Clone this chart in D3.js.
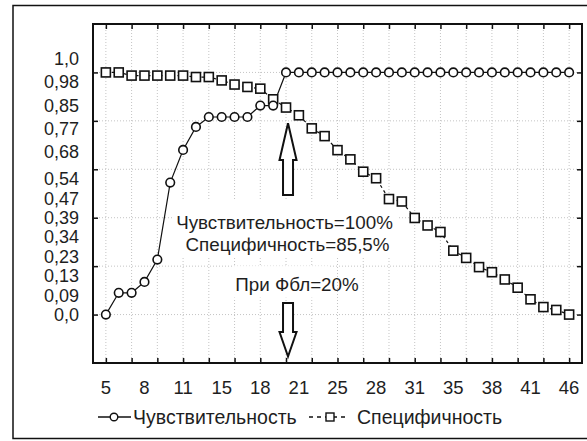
<!DOCTYPE html>
<html>
<head>
<meta charset="utf-8">
<script src="https://cdn.jsdelivr.net/npm/d3@7"></script>
<style>
  body { margin: 0; background: #fff; }
  text { font-family: "Liberation Sans", Arial, sans-serif; fill: #1e1e1e; }
</style>
</head>
<body>
<div id="chart"></div>
<script>
// x categories (Фбл, %) - a label every third point
const tickLabels = ["5", "8", "11", "15", "18", "21", "25", "28", "31", "35", "38", "41", "46"];
const seriesNames = ["Чувствительность", "Специфичность"];

const sensitivity = [0, 0.09, 0.09, 0.135, 0.227, 0.545, 0.68, 0.775, 0.816, 0.816, 0.816, 0.816, 0.863, 0.863,
    1, 1, 1, 1, 1, 1, 1, 1, 1, 1, 1, 1, 1, 1, 1, 1, 1, 1, 1, 1, 1, 1, 1];
const specificity = [1, 1, 0.987, 0.987, 0.987, 0.987, 0.987, 0.981, 0.981, 0.967, 0.95, 0.94, 0.933, 0.889,
    0.855, 0.823, 0.769, 0.737, 0.679, 0.641, 0.59, 0.563, 0.477, 0.467, 0.399, 0.368, 0.341, 0.264,
    0.234, 0.196, 0.175, 0.145, 0.111, 0.063, 0.031, 0.019, 0];

// y labels as printed on the original (two stacked columns)
const yLabelsUpper = ["1,0", "0,98", "0,85", "0,77", "0,68"];
const yLabelsLower = ["0,54", "0,47", "0,39", "0,34", "0,23", "0,13", "0,09", "0,0"];
const yTicks = [0, 0.2, 0.4, 0.6, 0.8, 1.0];

const noteLines = ["Чувствительность=100%", "Специфичность=85,5%", "При Фбл=20%"];
const cutIndex = 14; // Фбл = 20

const W = 587, H = 441;
const plot = { left: 93, top: 24, right: 582, bottom: 363 };

const svg = d3.select("#chart").append("svg")
    .attr("width", W).attr("height", H);

svg.append("rect").attr("width", W).attr("height", H).attr("fill", "#fff");

// outer frame (right side runs off the picture)
svg.append("rect")
    .attr("x", 13).attr("y", 5.5)
    .attr("width", 600).attr("height", 433)
    .attr("fill", "none").attr("stroke", "#111").attr("stroke-width", 1.5);

const x = d3.scaleLinear().domain([-1, sensitivity.length]).range([plot.left, plot.right]);
const y = d3.scaleLinear().domain([-0.2, 1.2]).range([plot.bottom, plot.top]);

const idx = d3.range(sensitivity.length);
const gridX = idx.filter(i => i % 2 === 0);

// grid
const grid = svg.append("g").attr("stroke", "#c4c4c4").attr("stroke-dasharray", "1,2");
grid.selectAll(".gx").data(gridX).enter().append("line")
    .attr("x1", d => x(d)).attr("x2", d => x(d))
    .attr("y1", plot.top).attr("y2", plot.bottom);
grid.selectAll(".gy").data(yTicks).enter().append("line")
    .attr("x1", plot.left).attr("x2", plot.right)
    .attr("y1", d => y(d)).attr("y2", d => y(d));

// white boxes behind annotation text
svg.append("rect").attr("x", x(cutIndex) - 114).attr("y", y(0.47))
    .attr("width", 226).attr("height", y(0.24) - y(0.47)).attr("fill", "#fff");
svg.append("rect").attr("x", x(cutIndex) - 52).attr("y", y(0.2))
    .attr("width", 96).attr("height", y(0.07) - y(0.2)).attr("fill", "#fff");

// ticks inside on all four sides
const tk = 5;
svg.append("g").attr("transform", `translate(0,${plot.bottom})`)
    .call(d3.axisBottom(x).tickValues(gridX).tickSize(-tk).tickFormat(""));
svg.append("g").attr("transform", `translate(0,${plot.top})`)
    .call(d3.axisTop(x).tickValues(gridX).tickSize(-tk).tickFormat(""));
svg.append("g").attr("transform", `translate(${plot.left},0)`)
    .call(d3.axisLeft(y).tickValues(yTicks).tickSize(-tk).tickFormat(""));
svg.append("g").attr("transform", `translate(${plot.right},0)`)
    .call(d3.axisRight(y).tickValues(yTicks).tickSize(-tk).tickFormat(""));
svg.selectAll(".domain").remove();
svg.selectAll(".tick line").attr("stroke", "#111").attr("stroke-width", 1.5);

// plot frame
svg.append("rect")
    .attr("x", plot.left).attr("y", plot.top)
    .attr("width", plot.right - plot.left).attr("height", plot.bottom - plot.top)
    .attr("fill", "none").attr("stroke", "#111").attr("stroke-width", 2);

// x labels
svg.selectAll(".xl").data(tickLabels).enter().append("text")
    .attr("x", (d, i) => x(i * 3)).attr("y", 394)
    .attr("text-anchor", "middle").attr("font-size", 18.5)
    .text(d => d);

// y labels
const yUp = d3.scalePoint().domain(yLabelsUpper).range([y(1.056), y(0.672)]);
const yLo = d3.scalePoint().domain(yLabelsLower).range([y(0.56), y(0)]);
svg.selectAll(".yu").data(yLabelsUpper).enter().append("text")
    .attr("x", 79).attr("y", d => yUp(d)).attr("dy", "0.35em")
    .attr("text-anchor", "end").attr("font-size", 18).text(d => d);
svg.selectAll(".yl").data(yLabelsLower).enter().append("text")
    .attr("x", 79).attr("y", d => yLo(d)).attr("dy", "0.35em")
    .attr("text-anchor", "end").attr("font-size", 18).text(d => d);

// lines
const line = d3.line().x((d, i) => x(i)).y(d => y(d));
svg.append("path").datum(sensitivity)
    .attr("fill", "none").attr("stroke", "#111").attr("stroke-width", 1.2)
    .attr("d", line);
svg.append("path").datum(specificity)
    .attr("fill", "none").attr("stroke", "#111").attr("stroke-width", 1.2)
    .attr("stroke-dasharray", "3,3")
    .attr("d", line);

// markers
svg.selectAll(".sq").data(specificity).enter().append("rect")
    .attr("x", (d, i) => x(i) - 4.5).attr("y", d => y(d) - 4.5)
    .attr("width", 9).attr("height", 9)
    .attr("fill", "#fff").attr("stroke", "#111").attr("stroke-width", 1.6);
svg.selectAll(".ci").data(sensitivity).enter().append("circle")
    .attr("cx", (d, i) => x(i)).attr("cy", d => y(d)).attr("r", 4.3)
    .attr("fill", "#fff").attr("stroke", "#111").attr("stroke-width", 1.6);

// annotation text
svg.append("text").attr("x", x(cutIndex) - 1.5).attr("y", y(0.38)).attr("dy", "0.35em")
    .attr("text-anchor", "middle").attr("font-size", 18.8).text(noteLines[0]);
svg.append("text").attr("x", x(cutIndex) + 1.5).attr("y", y(0.29)).attr("dy", "0.35em")
    .attr("text-anchor", "middle").attr("font-size", 18.8).text(noteLines[1]);
svg.append("text").attr("x", x(cutIndex) + 11).attr("y", y(0.125)).attr("dy", "0.35em")
    .attr("text-anchor", "middle").attr("font-size", 18.8).text(noteLines[2]);

// hollow arrows
const ax = x(cutIndex) + 2;
function arrow(tip, headBase, tail) {
    const s = 5, h = 8.5;
    return `M${ax},${tip} L${ax + h},${headBase} L${ax + s},${headBase} L${ax + s},${tail}` +
        ` L${ax - s},${tail} L${ax - s},${headBase} L${ax - h},${headBase} Z`;
}
svg.append("path").attr("d", arrow(y(0.79), y(0.638), y(0.494)))
    .attr("fill", "#fff").attr("stroke", "#111").attr("stroke-width", 2);
svg.append("path").attr("d", arrow(y(-0.173), y(-0.072), y(0.048)))
    .attr("fill", "#fff").attr("stroke", "#111").attr("stroke-width", 2);

// legend
const lg = svg.append("g").attr("transform", "translate(0,417)");
lg.append("line").attr("x1", 98).attr("x2", 131).attr("stroke", "#111").attr("stroke-width", 1.3);
lg.append("circle").attr("cx", 114).attr("r", 3.8)
    .attr("fill", "#fff").attr("stroke", "#111").attr("stroke-width", 1.4);
lg.append("text").attr("x", 133).attr("dy", "0.35em").attr("font-size", 19.5).text(seriesNames[0]);
lg.append("line").attr("x1", 309).attr("x2", 349).attr("stroke", "#111")
    .attr("stroke-width", 1.3).attr("stroke-dasharray", "4,4");
lg.append("rect").attr("x", 326).attr("y", -4).attr("width", 8).attr("height", 8)
    .attr("fill", "#fff").attr("stroke", "#111").attr("stroke-width", 1.4);
lg.append("text").attr("x", 357).attr("dy", "0.35em").attr("font-size", 19.5).text(seriesNames[1]);
</script>
</body>
</html>
